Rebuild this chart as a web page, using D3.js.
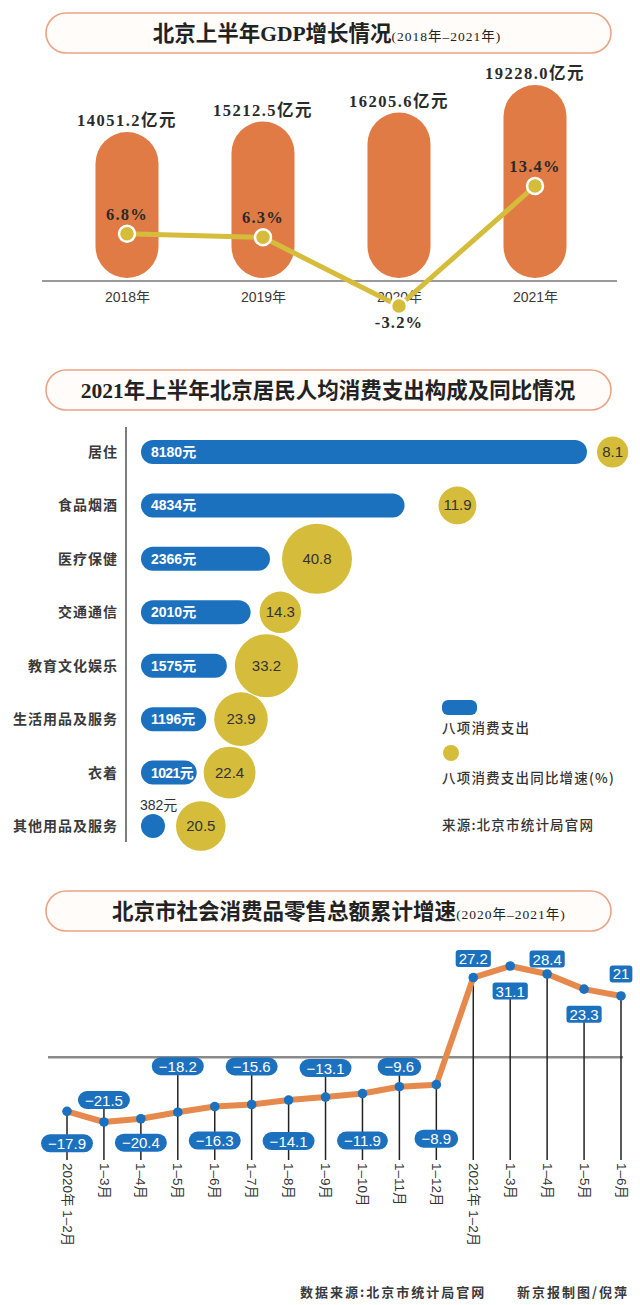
<!DOCTYPE html>
<html><head><meta charset="utf-8">
<script src="https://cdn.jsdelivr.net/npm/d3@7"></script>
<style>
html,body{margin:0;padding:0;background:#fff;}
svg{display:block;}
</style></head><body>
<svg id="c" width="640" height="1305"></svg>
<script>
// ================= DATA =================
const titles = ["北京上半年GDP增长情况", "2021年上半年北京居民人均消费支出构成及同比情况", "北京市社会消费品零售总额累计增速"];
const titleSubs = ["(2018年–2021年)", "", "(2020年–2021年)"];

const gdpYears = ["2018年", "2019年", "2020年", "2021年"];
const gdpValues = [14051.2, 15212.5, 16205.6, 19228.0];
const gdpGrowth = [6.8, 6.3, -3.2, 13.4];

const consCategories = ["居住", "食品烟酒", "医疗保健", "交通通信", "教育文化娱乐", "生活用品及服务", "衣着", "其他用品及服务"];
const consSpending = [8180, 4834, 2366, 2010, 1575, 1196, 1021, 382];
const consGrowth = [8.1, 11.9, 40.8, 14.3, 33.2, 23.9, 22.4, 20.5];
const legendLabels = ["八项消费支出", "八项消费支出同比增速(%)"];
const consSource = "来源:北京市统计局官网";

const retailPeriods = ["2020年 1–2月", "1–3月", "1–4月", "1–5月", "1–6月", "1–7月", "1–8月", "1–9月", "1–10月", "1–11月", "1–12月",
  "2021年 1–2月", "1–3月", "1–4月", "1–5月", "1–6月"];
const retailGrowth = [-17.9, -21.5, -20.4, -18.2, -16.3, -15.6, -14.1, -13.1, -11.9, -9.6, -8.9, 27.2, 31.1, 28.4, 23.3, 21];
const footerTexts = ["数据来源:北京市统计局官网", "新京报制图/倪萍"];

// ================= LAYOUT / STYLE =================
const bubbleGap = [10, 34, 12, 9, 8, 8, 7, 11];           // gap between bar end and bubble
const labelOffset = [32, -22, 24, -46, 34, -38, 41, -29, 47, -20, 54, -19, 25, -15, 25, -22]; // label centre vs point

const CJK = '"Noto Sans CJK SC", sans-serif';
const SERIF = '"Liberation Serif", "Noto Sans CJK SC", serif';
const SANS = '"Liberation Sans", Arial, "Noto Sans CJK SC", sans-serif';
const ORANGE = "#e07b45", YELLOW = "#d6bc3b", BLUE = "#1c71bf", LINEORANGE = "#e58a4c";

const svg = d3.select("#c");

// ---------- title pills ----------
const pillY = [13, 370, 891], pillCx = [327, 328, 339];
titles.forEach((t, i) => {
  const h = 40;
  svg.append("rect").attr("x", 46).attr("y", pillY[i]).attr("width", 565).attr("height", h).attr("rx", h / 2)
    .attr("fill", "#fffcf9").attr("stroke", "#eba386").attr("stroke-width", 1.6);
  const tx = svg.append("text").attr("x", pillCx[i]).attr("y", pillY[i] + h / 2 + 8).attr("text-anchor", "middle")
    .attr("font-family", SERIF).attr("fill", "#222");
  tx.append("tspan").attr("font-size", 21.5).attr("font-weight", 700).text(t);
  if (titleSubs[i]) tx.append("tspan").attr("font-size", 13.5).attr("font-weight", 400)
    .attr("letter-spacing", 1).text(titleSubs[i]);
});

// ================= CHART 1: GDP =================
const xG = d3.scalePoint().domain(gdpYears).range([127, 535]);
const yG = d3.scaleLinear().domain([0, 19228]).range([260, 85]);
const yP = d3.scaleLinear().domain([-3.2, 13.4]).range([306, 186]);
const gBase = 278, gBw = 63;

svg.append("line").attr("x1", 42).attr("x2", 617).attr("y1", 281).attr("y2", 281)
  .attr("stroke", "#9a9a9a").attr("stroke-width", 2);

svg.append("g").selectAll("rect").data(gdpValues).join("rect")
  .attr("x", (d, i) => xG(gdpYears[i]) - gBw / 2).attr("y", d => yG(d))
  .attr("width", gBw).attr("height", d => gBase - yG(d)).attr("rx", gBw / 2).attr("fill", ORANGE);

svg.append("g").selectAll("text").data(gdpValues).join("text")
  .attr("x", (d, i) => xG(gdpYears[i])).attr("y", d => yG(d) - 6).attr("text-anchor", "middle")
  .attr("font-family", SERIF).attr("font-weight", 700).attr("font-size", 16.5).attr("letter-spacing", 1.5)
  .attr("fill", "#2a2a2a").text(d => d.toFixed(1) + "亿元");

const axG = svg.append("g").attr("transform", "translate(0,302)")
  .call(d3.axisBottom(xG).tickSize(0).tickPadding(0));
axG.select(".domain").remove();
axG.selectAll("text").attr("y", 0).attr("dy", 0).attr("font-family", SANS).attr("font-size", 14)
  .attr("fill", "#3a3a3a");

svg.append("path").datum(gdpGrowth)
  .attr("d", d3.line().x((d, i) => xG(gdpYears[i])).y(d => yP(d)))
  .attr("fill", "none").attr("stroke", YELLOW).attr("stroke-width", 5);

svg.append("g").selectAll("circle").data(gdpGrowth).join("circle")
  .attr("cx", (d, i) => xG(gdpYears[i])).attr("cy", d => yP(d)).attr("r", 8)
  .attr("fill", YELLOW).attr("stroke", "#fff").attr("stroke-width", 2.5);

svg.append("g").selectAll("text").data(gdpGrowth).join("text")
  .attr("x", (d, i) => xG(gdpYears[i])).attr("y", d => d < 0 ? yP(d) + 22 : yP(d) - 14)
  .attr("text-anchor", "middle").attr("font-family", SERIF).attr("font-weight", 700).attr("font-size", 16.5)
  .attr("letter-spacing", 1.2).attr("fill", "#2a2a2a").text(d => d.toFixed(1) + "%");

// ================= CHART 2: consumption =================
const yC = d3.scalePoint().domain(consCategories).range([452, 826]);
const xC = d3.scaleLinear().domain([0, 8180]).range([141, 587]);
const rC = d3.scaleSqrt().domain([0, 40.8]).range([0, 35]);
const cBh = 24;
const barW = v => Math.max(xC(v) - xC(0), cBh);

svg.append("line").attr("x1", 126).attr("x2", 126).attr("y1", 427).attr("y2", 842)
  .attr("stroke", "#7d7d7d").attr("stroke-width", 2);

svg.append("g").selectAll("text").data(consCategories).join("text")
  .attr("x", 118).attr("y", d => yC(d) + 5).attr("text-anchor", "end")
  .attr("font-family", CJK).attr("font-weight", 700).attr("font-size", 14).attr("letter-spacing", 1)
  .attr("fill", "#3a3a3a").text(d => d);

svg.append("g").selectAll("rect").data(consSpending).join("rect")
  .attr("x", xC(0)).attr("y", (d, i) => yC(consCategories[i]) - cBh / 2)
  .attr("width", d => barW(d)).attr("height", cBh).attr("rx", cBh / 2).attr("fill", BLUE);

svg.append("g").selectAll("text").data(consSpending).join("text")
  .attr("x", d => barW(d) > 40 ? xC(0) + 10 : xC(0) - 1)
  .attr("y", (d, i) => barW(d) > 40 ? yC(consCategories[i]) + 5 : yC(consCategories[i]) - 16)
  .attr("font-family", SANS).attr("font-weight", d => barW(d) > 40 ? 700 : 400)
  .attr("font-size", 14).attr("letter-spacing", d => barW(d) > 40 && barW(d) < 60 ? -0.6 : 0)
  .attr("fill", d => barW(d) > 40 ? "#fff" : "#333").text(d => d + "元");

const bx = (d, i) => xC(0) + barW(consSpending[i]) + bubbleGap[i] + rC(d);
svg.append("g").selectAll("circle").data(consGrowth).join("circle")
  .attr("cx", bx).attr("cy", (d, i) => yC(consCategories[i])).attr("r", d => rC(d)).attr("fill", YELLOW);
svg.append("g").selectAll("text").data(consGrowth).join("text")
  .attr("x", bx).attr("y", (d, i) => yC(consCategories[i]) + 5).attr("text-anchor", "middle")
  .attr("font-family", SANS).attr("font-size", 15).attr("fill", "#333").text(d => d.toFixed(1));

// legend
svg.append("rect").attr("x", 442).attr("y", 700).attr("width", 35).attr("height", 15).attr("rx", 6).attr("fill", BLUE);
svg.append("circle").attr("cx", 451).attr("cy", 753).attr("r", 8).attr("fill", YELLOW);
svg.append("g").selectAll("text").data([legendLabels[0], legendLabels[1], consSource]).join("text")
  .attr("x", 442).attr("y", (d, i) => [733, 783, 830][i])
  .attr("font-family", CJK).attr("font-size", 13.5).attr("letter-spacing", 1.2).attr("font-weight", 500)
  .attr("fill", "#333").text(d => d);

// ================= CHART 3: retail =================
const idx = d3.range(retailGrowth.length);
const xR = d3.scalePoint().domain(idx).range([67, 621]);
const yR = d3.scaleLinear().domain([-21.5, 31.1]).range([1122, 966]);
const fmt = d3.format("");
const stemBottom = 1160;

svg.append("line").attr("x1", 48).attr("x2", 623).attr("y1", yR(0) - 1).attr("y2", yR(0) - 1)
  .attr("stroke", "#8a8a8a").attr("stroke-width", 2.5);

const labelY = i => yR(retailGrowth[i]) + labelOffset[i];
const stemTop = i => {
  const v = retailGrowth[i], below = labelOffset[i] > 0;
  if (v < 0) return below ? yR(v) : labelY(i);
  return below ? labelY(i) : yR(v);
};
svg.append("g").selectAll("line").data(idx).join("line")
  .attr("x1", i => xR(i)).attr("x2", i => xR(i)).attr("y1", stemTop).attr("y2", stemBottom)
  .attr("stroke", "#222").attr("stroke-width", 1.5);

svg.append("path").datum(retailGrowth)
  .attr("d", d3.line().x((d, i) => xR(i)).y(d => yR(d)))
  .attr("fill", "none").attr("stroke", LINEORANGE).attr("stroke-width", 6).attr("stroke-linejoin", "round");

svg.append("g").selectAll("circle").data(retailGrowth).join("circle")
  .attr("cx", (d, i) => xR(i)).attr("cy", d => yR(d)).attr("r", 4.8).attr("fill", BLUE);

const lab = svg.append("g").selectAll("g").data(idx).join("g")
  .attr("transform", i => `translate(${xR(i)},${labelY(i)})`);
lab.append("text").attr("text-anchor", "middle").attr("y", 5.5)
  .attr("font-family", SANS).attr("font-size", 15).attr("fill", "#fff").text(i => fmt(retailGrowth[i]));
lab.each(function (i) {
  const g = d3.select(this), t = g.select("text");
  const w = t.node().getComputedTextLength();
  const neg = retailGrowth[i] < 0;
  const pw = neg ? w + 14 : w + 6, ph = neg ? 18 : 17;
  g.insert("rect", "text").attr("x", -pw / 2).attr("y", -ph / 2).attr("width", pw).attr("height", ph)
    .attr("rx", neg ? ph / 2 : 3).attr("fill", BLUE);
});

const axR = svg.append("g").attr("transform", "translate(0,1163)")
  .call(d3.axisBottom(xR).tickSize(0).tickPadding(0).tickFormat(i => retailPeriods[i]));
axR.select(".domain").remove();
axR.selectAll("text").attr("y", 0).attr("x", 0).attr("dy", "0.36em").attr("transform", "rotate(90)")
  .attr("text-anchor", "start").attr("font-family", SANS).attr("font-size", 13.5).attr("fill", "#333");

// footer
svg.append("g").selectAll("text").data(footerTexts).join("text")
  .attr("x", (d, i) => [300, 517][i]).attr("y", 1297)
  .attr("font-family", CJK).attr("font-weight", 700).attr("font-size", 13).attr("letter-spacing", 2)
  .attr("fill", "#3a3a3a").text(d => d);
</script>
</body></html>
